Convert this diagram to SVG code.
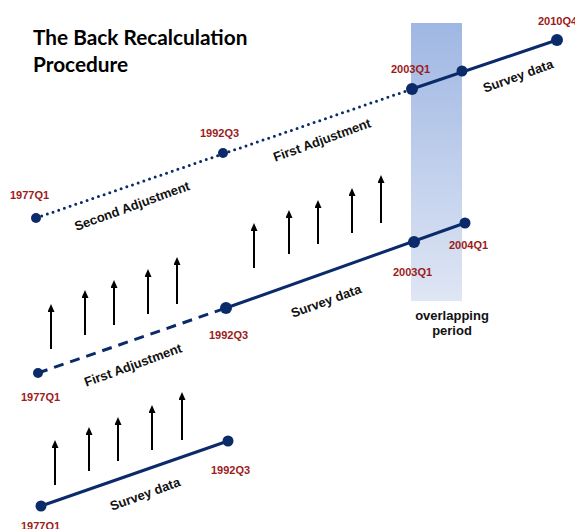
<svg xmlns="http://www.w3.org/2000/svg" width="575" height="529" viewBox="0 0 575 529">
<defs>
<linearGradient id="ov" x1="0" y1="0" x2="0" y2="1">
<stop offset="0" stop-color="#9fb7e3"/>
<stop offset="1" stop-color="#dfe6f4"/>
</linearGradient>
<marker id="ah" viewBox="0 0 8 7" refX="1" refY="3.5" markerWidth="8" markerHeight="7" orient="auto" markerUnits="userSpaceOnUse">
<path d="M0,0 L8,3.5 L0,7 z" fill="#000"/>
</marker>
<style>
.ln{stroke:#0b2a6a;stroke-width:3;fill:none}
.dot{fill:#0b2a6a;stroke:none}
.dl{stroke-dasharray:0 6;stroke-linecap:round}
.ds{stroke-dasharray:10 7}
.up{stroke:#000;stroke-width:2;marker-end:url(#ah)}
.q{font-family:"Liberation Sans",Arial,sans-serif;font-weight:bold;font-size:11px;fill:#9b1b1b}
.lb{font-family:"Liberation Sans",Arial,sans-serif;font-weight:bold;font-size:13px;fill:#111;text-anchor:middle}
.tt{font-family:Lato,"Open Sans",sans-serif;font-weight:bold;font-size:20.8px;fill:#000}
</style>
</defs>
<rect id="overlap" x="411" y="23" width="51" height="278" fill="url(#ov)"/>
<g id="title"><text class="tt" x="33" y="45">The Back Recalculation</text><text class="tt" x="33" y="72">Procedure</text></g>
<g id="connectors">
<line class="ln dl" x1="36" y1="218" x2="412" y2="89"/>
<line class="ln" x1="412" y1="89" x2="557" y2="40"/>
<line class="ln ds" x1="38" y1="373" x2="226" y2="308"/>
<line class="ln" x1="226" y1="308" x2="465" y2="223"/>
<line class="ln" x1="41" y1="506" x2="228" y2="441"/>
<line class="up" x1="254" y1="268" x2="254" y2="230"/>
<line class="up" x1="289" y1="254" x2="289" y2="217"/>
<line class="up" x1="318" y1="244" x2="318" y2="207"/>
<line class="up" x1="352" y1="233" x2="352" y2="195"/>
<line class="up" x1="381" y1="223" x2="381" y2="182"/>
<line class="up" x1="51" y1="349" x2="51" y2="311"/>
<line class="up" x1="85" y1="335" x2="85" y2="297"/>
<line class="up" x1="114" y1="325" x2="114" y2="287"/>
<line class="up" x1="148" y1="314" x2="148" y2="276"/>
<line class="up" x1="177" y1="304" x2="177" y2="264"/>
<line class="up" x1="55" y1="485" x2="55" y2="447"/>
<line class="up" x1="89" y1="471" x2="89" y2="434"/>
<line class="up" x1="118" y1="461" x2="118" y2="424"/>
<line class="up" x1="152" y1="450" x2="152" y2="412"/>
<line class="up" x1="182" y1="440" x2="182" y2="399"/>
</g>
<g id="n-top-1977"><circle class="dot" cx="36" cy="218" r="5"/><text class="q" x="10" y="199">1977Q1</text></g>
<g id="n-top-1992"><circle class="dot" cx="223" cy="153" r="5"/><text class="q" x="200" y="137">1992Q3</text></g>
<g id="n-top-2003"><circle class="dot" cx="412" cy="89" r="6"/><text class="q" x="391" y="73">2003Q1</text></g>
<g id="n-top-2004"><circle class="dot" cx="462" cy="71" r="5.5"/></g>
<g id="n-top-2010"><circle class="dot" cx="557" cy="40" r="6"/><text class="q" x="538" y="25">2010Q4</text></g>
<g id="n-mid-1977"><circle class="dot" cx="38" cy="373" r="5"/><text class="q" x="21" y="401">1977Q1</text></g>
<g id="n-mid-1992"><circle class="dot" cx="226" cy="308" r="6"/><text class="q" x="209" y="339">1992Q3</text></g>
<g id="n-mid-2003"><circle class="dot" cx="414" cy="242" r="6"/><text class="q" x="393" y="276">2003Q1</text></g>
<g id="n-mid-2004"><circle class="dot" cx="465" cy="223" r="5.5"/><text class="q" x="449" y="249">2004Q1</text></g>
<g id="n-bot-1977"><circle class="dot" cx="41" cy="506" r="5.5"/><text class="q" x="21" y="530">1977Q1</text></g>
<g id="n-bot-1992"><circle class="dot" cx="228" cy="441" r="5.5"/><text class="q" x="211" y="474">1992Q3</text></g>
<g id="labels">
<text class="lb" transform="translate(132,206) rotate(-20)" y="4.5">Second Adjustment</text>
<text class="lb" transform="translate(322,140) rotate(-20)" y="4.5">First Adjustment</text>
<text class="lb" transform="translate(518,76) rotate(-20)" y="4.5">Survey data</text>
<text class="lb" transform="translate(326,301) rotate(-20)" y="4.5">Survey data</text>
<text class="lb" transform="translate(133,365) rotate(-20)" y="4.5">First Adjustment</text>
<text class="lb" transform="translate(145,494) rotate(-20)" y="4.5">Survey data</text>
<text class="lb" x="452" y="320">overlapping</text>
<text class="lb" x="452" y="335">period</text>
</g>
</svg>
